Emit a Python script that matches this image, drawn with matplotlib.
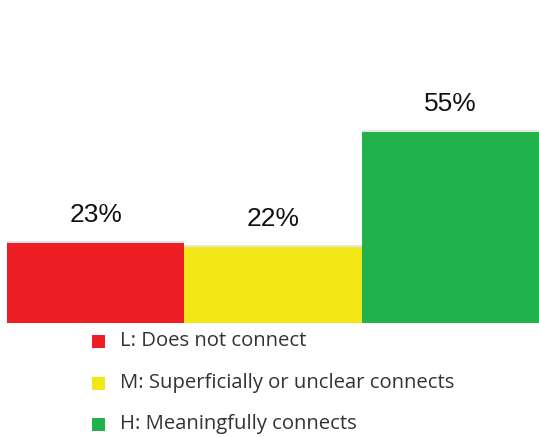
import matplotlib
matplotlib.use("Agg")
import matplotlib.pyplot as plt
from matplotlib.patches import Rectangle
import matplotlib.patheffects as pe

categories = ["L: Does not connect", "M: Superficially or unclear connects", "H: Meaningfully connects"]
values = [23, 22, 55]
labels = ["23%", "22%", "55%"]
colors = ["#ED1F24", "#F2E817", "#21B24B"]

W, H = 539, 437
fig = plt.figure(figsize=(W / 100, H / 100), dpi=100)
fig.patch.set_facecolor("white")

# plot area: baseline at y=323 px, bars span x=7..539 px
ax = fig.add_axes([7 / W, (H - 323) / H, 532 / W, 323 / H])
ax.set_xlim(0, 3)
ax.set_ylim(0, 93)
ax.axis("off")

shadow = [pe.SimplePatchShadow(offset=(0, 1.2), shadow_rgbFace="#999999", alpha=0.25), pe.Normal()]
for i, (v, c, lab) in enumerate(zip(values, colors, labels)):
    bar = ax.bar(i, v, width=1.0, align="edge", color=c, edgecolor="none", zorder=2)
    bar[0].set_path_effects(shadow)
    ax.text(i + 0.5, v + 8.0, lab, ha="center", va="center",
            fontsize=19, family="Liberation Sans", color="#111111")

ax.axhline(0, color="#d0d0d0", lw=1.0, zorder=1)

# legend drawn as colored squares with labels
rows_y = [341, 383, 424]
sq = 13
for c, name, y in zip(colors, categories, rows_y):
    fig.patches.append(Rectangle(((98 - sq / 2) / W, (H - y - sq / 2) / H), sq / W, sq / H,
                                 transform=fig.transFigure, facecolor=c, edgecolor="none"))
    fig.text(120 / W, (H - y) / H, name, ha="left", va="center",
             fontsize=14.6, family="Open Sans", color="#333333")

fig.savefig("out.png", dpi=100, facecolor="white")
